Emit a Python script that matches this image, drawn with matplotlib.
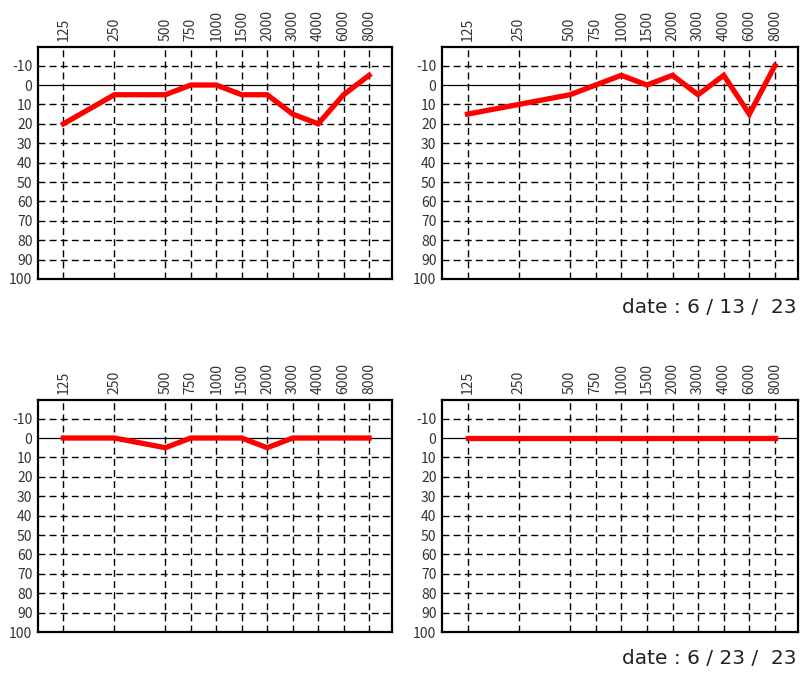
import matplotlib
matplotlib.use('Agg')
import matplotlib.pyplot as plt

plt.rcParams['font.family'] = ['Noto Sans CJK JP', 'DejaVu Sans']

# Audiogram frequencies (Hz) and their slot on the chart (half-octave steps)
freqs = ['125', '250', '500', '750', '1000', '1500', '2000', '3000', '4000', '6000', '8000']
slots = [0, 2, 4, 5, 6, 7, 8, 9, 10, 11, 12]

# Hearing levels (dB)
top_left = [20, 5, 5, 0, 0, 5, 5, 15, 20, 5, -5]
top_right = [15, 10, 5, 0, -5, 0, -5, 5, -5, 15, -10]
bottom_left = [0, 0, 5, 0, 0, 0, 5, 0, 0, 0, 0]
bottom_right = [0, 0, 0, 0, 0, 0, 0, 0, 0, 0, 0]

db_ticks = [-10, 0, 10, 20, 30, 40, 50, 60, 70, 80, 90, 100]
dates = ['date : 6 / 13 /  23', 'date : 6 / 23 /  23']

W, H = 810, 676
fig = plt.figure(figsize=(W / 100, H / 100), dpi=100)


def panel(x0, y0, x1, y1, values):
    ax = fig.add_axes([x0 / W, 1 - y1 / H, (x1 - x0) / W, (y1 - y0) / H])
    ax.set_xlim(-1, 12.9)
    ax.set_ylim(100, -19.6)
    for v in db_ticks[:-1]:
        if v == 0:
            ax.axhline(v, color='black', lw=0.9, zorder=1)
        else:
            ax.axhline(v, color='black', lw=1.0, ls=(0, (5, 3)), zorder=1)
    for s in slots:
        ax.axvline(s, color='black', lw=1.0, ls=(0, (5, 3)), zorder=1)
    ax.plot(slots, values, color='#ff0000', lw=3.8, solid_joinstyle='miter', zorder=3)
    ax.set_xticks(slots)
    ax.set_xticklabels(freqs, rotation=90)
    ax.set_yticks(db_ticks)
    ax.set_yticklabels([str(v) for v in db_ticks])
    ax.xaxis.tick_top()
    ax.tick_params(length=0, pad=4, labelsize=10, labelcolor='#333333')
    for sp in ax.spines.values():
        sp.set_linewidth(1.6)
        sp.set_color('black')
    return ax


panel(38, 47, 392, 279, top_left)
panel(442, 47, 798, 279, top_right)
panel(38, 400, 392, 632, bottom_left)
panel(442, 400, 798, 632, bottom_right)

fig.text(797 / W, 1 - 307 / H, dates[0], ha='right', va='center',
         fontsize=14.5, family='DejaVu Sans', color='#222222')
fig.text(797 / W, 1 - 658 / H, dates[1], ha='right', va='center',
         fontsize=14.5, family='DejaVu Sans', color='#222222')

fig.savefig('out.png', dpi=100)
